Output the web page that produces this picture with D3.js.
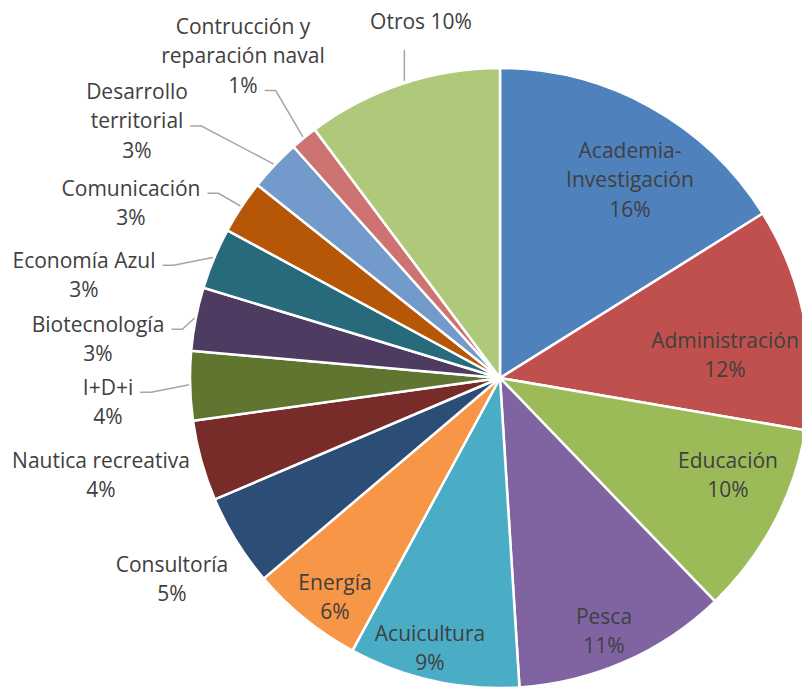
<!DOCTYPE html>
<html>
<head>
<meta charset="utf-8">
<script src="https://cdn.jsdelivr.net/npm/d3@7"></script>
<style>
  html, body { margin: 0; padding: 0; background: #fff; }
  svg { display: block; }
  text { font-family: "Open Sans", sans-serif; fill: #404040; }
</style>
</head>
<body>
<svg id="chart" width="802" height="688"></svg>
<script>
// slices, clockwise from 12 o'clock ("\n" = line break in the label)
const categories = [
  "Academia-\nInvestigación", "Administración", "Educación", "Pesca", "Acuicultura",
  "Energía", "Consultoría", "Nautica recreativa", "I+D+i", "Biotecnología",
  "Economía Azul", "Comunicación", "Desarrollo\nterritorial",
  "Contrucción y\nreparación naval", "Otros"
];
const values = [16.1, 11.6, 10.1, 11.2, 8.9, 5.9, 4.8, 4.2, 3.6, 3.3, 3.2, 2.8, 2.7, 1.4, 10.2];
const colors = [
  "#4f81bd", "#c0504d", "#9bbb59", "#8064a2", "#4bacc6", "#f79646", "#2c4d75",
  "#772c2a", "#5f7530", "#4d3b62", "#276a7c", "#b65708", "#729aca", "#cd7371", "#afc97a"
];

// label layout: block centre, and which line gets the leader (null = no leader)
const labelLayout = {
  "Academia-\nInvestigación": { x: 630, y: 180 },
  "Administración": { x: 725, y: 355 },
  "Educación": { x: 728, y: 475 },
  "Pesca": { x: 604, y: 631 },
  "Acuicultura": { x: 430, y: 648 },
  "Energía": { x: 335, y: 597 },
  "Consultoría": { x: 172, y: 579 },
  "Nautica recreativa": { x: 101, y: 475 },
  "I+D+i": { x: 108, y: 402, leader: 0 },
  "Biotecnología": { x: 98, y: 339, leader: 0 },
  "Economía Azul": { x: 84, y: 275, leader: 0 },
  "Comunicación": { x: 131, y: 203, leader: 0 },
  "Desarrollo\nterritorial": { x: 137, y: 121, leader: 1 },
  "Contrucción y\nreparación naval": { x: 243, y: 56, leader: 2 },
  "Otros": { x: 421, y: 22, inline: true, above: true }
};

const width = 802, height = 688;
const cx = 500, cy = 378, radius = 310;
const lineH = 29.5;

const svg = d3.select("#chart");
const g = svg.append("g").attr("transform", `translate(${cx},${cy})`);

const pie = d3.pie().sort(null).value(d => d.value);
const data = categories.map((c, i) => ({ name: c, value: values[i], color: colors[i] }));
const arcs = pie(data);

const arc = d3.arc().innerRadius(0).outerRadius(radius);

g.selectAll("path.slice")
  .data(arcs)
  .join("path")
  .attr("class", "slice")
  .attr("d", arc)
  .attr("fill", d => d.data.color)
  .attr("stroke", "#fff")
  .attr("stroke-width", 2.5)
  .attr("stroke-linejoin", "round");

// labels
const labels = svg.append("g");
const leaders = svg.append("g")
  .attr("fill", "none")
  .attr("stroke", "#a6a6a6")
  .attr("stroke-width", 1.5);

arcs.forEach(d => {
  const lay = labelLayout[d.data.name];
  const pct = Math.round(d.data.value) + "%";
  let lines = d.data.name.split("\n");
  if (lay.inline) lines[lines.length - 1] += " " + pct;
  else lines.push(pct);

  const top = lay.y - (lines.length - 1) * lineH / 2;
  const t = labels.append("text")
    .attr("text-anchor", "middle")
    .attr("font-size", 21);
  const spans = lines.map((ln, i) => t.append("tspan")
    .attr("x", lay.x)
    .attr("y", top + i * lineH)
    .attr("dy", "0.35em")
    .text(ln));

  // leader: from slice edge at mid angle to label
  const mid = (d.startAngle + d.endAngle) / 2;
  const ex = cx + radius * Math.sin(mid);
  const ey = cy - radius * Math.cos(mid);
  if (lay.above) {
    leaders.append("path").attr("d", `M${ex + 2},${lay.y + 28}L${ex + 2},${ey - 3}`);
  } else if (lay.leader != null) {
    const sp = spans[lay.leader];
    const w = sp.node().getComputedTextLength();
    const endX = lay.x + w / 2 + 7;
    const y = top + lay.leader * lineH + 5;
    leaders.append("path").attr("d", `M${endX},${y}L${endX + 11},${y}L${ex - 1},${ey - 1}`);
  }
});
</script>
</body>
</html>
